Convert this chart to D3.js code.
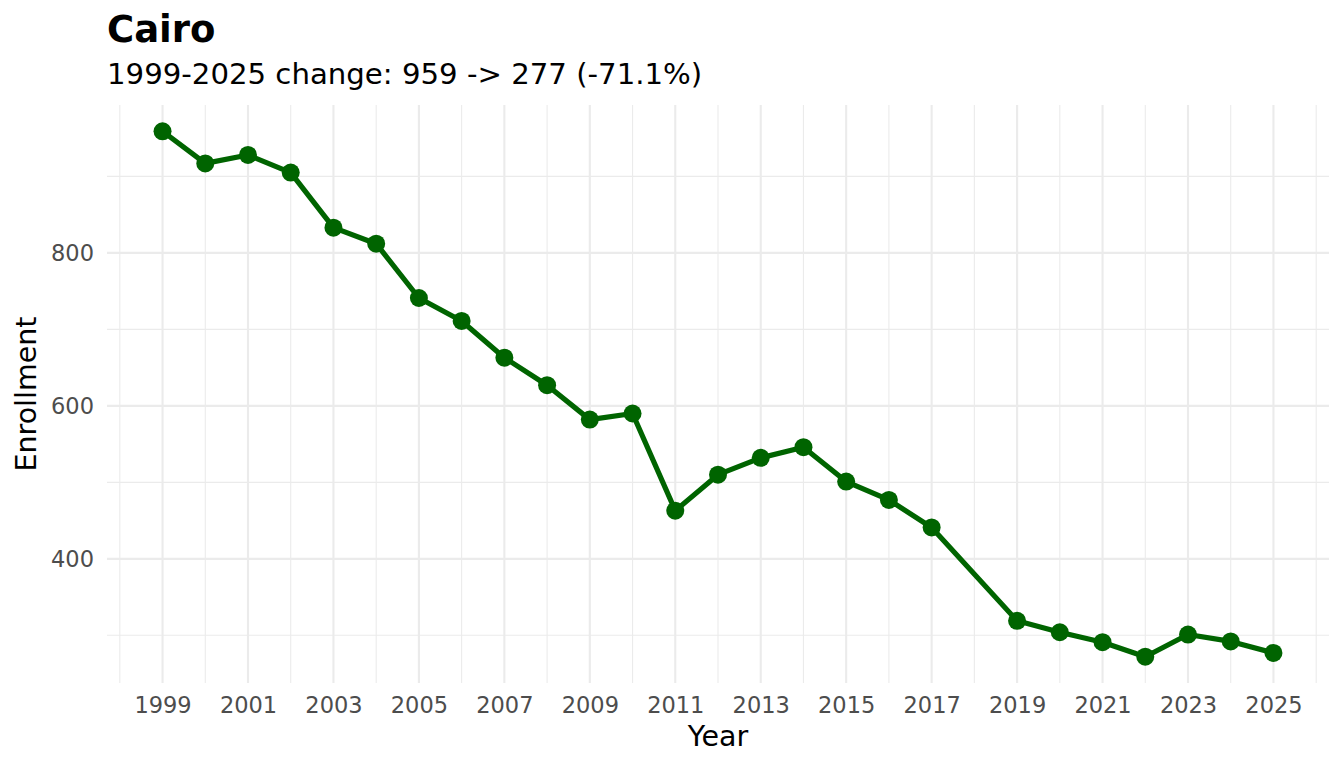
<!DOCTYPE html>
<html>
<head>
<meta charset="utf-8">
<script src="https://cdn.jsdelivr.net/npm/d3@7"></script>
<style>
  html, body { margin: 0; padding: 0; background: #fff; }
  svg { display: block; }
  text { font-family: "DejaVu Sans", sans-serif; }
</style>
</head>
<body>
<script>
// ---- data ----
const years = [1999, 2000, 2001, 2002, 2003, 2004, 2005, 2006, 2007, 2008, 2009, 2010, 2011, 2012, 2013, 2014, 2015, 2016, 2017, 2019, 2020, 2021, 2022, 2023, 2024, 2025];
const enrollment = [959, 917, 928, 905, 833, 812, 741, 711, 663, 627, 582, 590, 463, 510, 532, 546, 501, 477, 441, 319, 304, 291, 272, 301, 292, 277];
const xMajorTicks = [1999, 2001, 2003, 2005, 2007, 2009, 2011, 2013, 2015, 2017, 2019, 2021, 2023, 2025];
const xMinorTicks = [1998, 2000, 2002, 2004, 2006, 2008, 2010, 2012, 2014, 2016, 2018, 2020, 2022, 2024, 2026];
const yMajorTicks = [400, 600, 800];
const yMinorTicks = [300, 500, 700, 900];
const titleText = "Cairo";
const subtitleText = "1999-2025 change: 959 -> 277 (-71.1%)";
const xLabel = "Year";
const yLabel = "Enrollment";

const W = 1344, H = 768;
const panel = { left: 107, right: 1329, top: 105, bottom: 683 };

const svg = d3.select("body").append("svg").attr("width", W).attr("height", H);

const xExt = d3.extent(years), xPad = (xExt[1] - xExt[0]) * 0.05;
const yExt = d3.extent(enrollment), yPad = (yExt[1] - yExt[0]) * 0.05;
const x = d3.scaleLinear().domain([xExt[0] - xPad, xExt[1] + xPad]).range([panel.left, panel.right]);
const y = d3.scaleLinear().domain([yExt[0] - yPad, yExt[1] + yPad]).range([panel.bottom, panel.top]);

const grid = svg.append("g");
const gridColor = "#EBEBEB";
grid.selectAll(".ymin").data(yMinorTicks).join("line")
  .attr("x1", panel.left).attr("x2", panel.right)
  .attr("y1", d => y(d)).attr("y2", d => y(d))
  .attr("stroke", gridColor).attr("stroke-width", 1.1);
grid.selectAll(".xmin").data(xMinorTicks).join("line")
  .attr("y1", panel.top).attr("y2", panel.bottom)
  .attr("x1", d => x(d)).attr("x2", d => x(d))
  .attr("stroke", gridColor).attr("stroke-width", 1.1);
grid.selectAll(".ymaj").data(yMajorTicks).join("line")
  .attr("x1", panel.left).attr("x2", panel.right)
  .attr("y1", d => y(d)).attr("y2", d => y(d))
  .attr("stroke", gridColor).attr("stroke-width", 2.1);
grid.selectAll(".xmaj").data(xMajorTicks).join("line")
  .attr("y1", panel.top).attr("y2", panel.bottom)
  .attr("x1", d => x(d)).attr("x2", d => x(d))
  .attr("stroke", gridColor).attr("stroke-width", 2.1);

// axes (text only, ggplot minimal style)
const xAxis = svg.append("g").attr("transform", `translate(0,${panel.bottom})`)
  .call(d3.axisBottom(x).tickValues(xMajorTicks).tickFormat(d3.format("d")).tickSize(0).tickPadding(14));
const yAxis = svg.append("g").attr("transform", `translate(${panel.left},0)`)
  .call(d3.axisLeft(y).tickValues(yMajorTicks).tickSize(0).tickPadding(13));
[xAxis, yAxis].forEach(a => {
  a.select(".domain").remove();
  a.selectAll("text").attr("fill", "#4D4D4D").style("font-size", "22.5px").style("font-family", "DejaVu Sans");
});
xAxis.selectAll("text").attr("dy", "0.71em");

// line and points
const line = d3.line().x((d, i) => x(years[i])).y(d => y(d));
svg.append("path").datum(enrollment)
  .attr("d", line).attr("fill", "none")
  .attr("stroke", "#006400").attr("stroke-width", 5.2).attr("stroke-linejoin", "round");
svg.selectAll(".pt").data(enrollment).join("circle")
  .attr("cx", (d, i) => x(years[i])).attr("cy", d => y(d))
  .attr("r", 9).attr("fill", "#006400");

// titles
svg.append("text").attr("x", 107).attr("y", 42).text(titleText)
  .style("font-size", "37px").style("font-weight", "bold").attr("fill", "#000");
svg.append("text").attr("x", 107).attr("y", 84).text(subtitleText)
  .style("font-size", "29.2px").attr("fill", "#000");
svg.append("text").attr("x", (panel.left + panel.right) / 2).attr("y", 746)
  .attr("text-anchor", "middle").text(xLabel).style("font-size", "28.5px").attr("fill", "#000");
svg.append("text").attr("transform", `translate(36,${(panel.top + panel.bottom) / 2}) rotate(-90)`)
  .attr("text-anchor", "middle").text(yLabel).style("font-size", "28.5px").attr("fill", "#000");
</script>
</body>
</html>
